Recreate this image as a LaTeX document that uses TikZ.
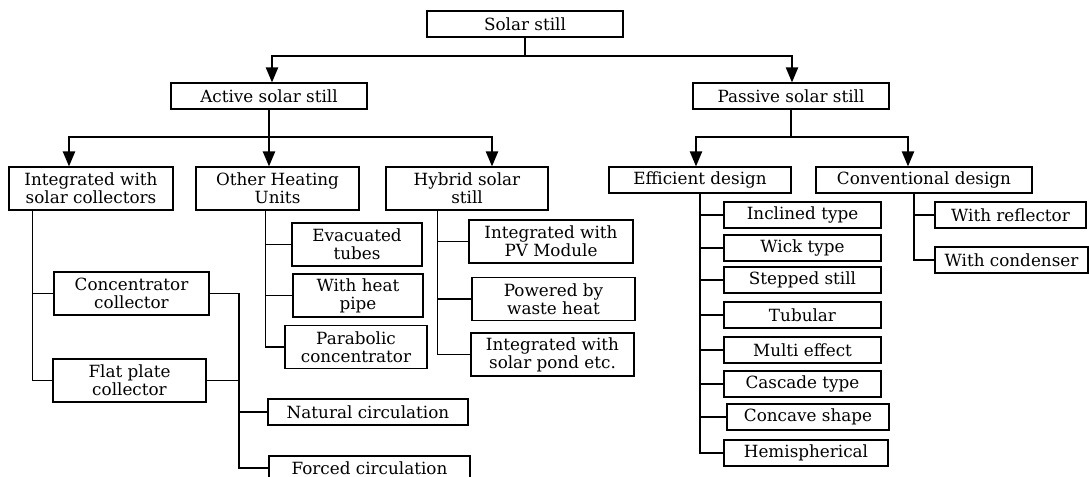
\documentclass[tikz,border=0pt]{standalone}
\usepackage{fontspec}
\setmainfont{DejaVu Serif}
\usetikzlibrary{arrows}
\tikzset{
  box/.style={draw, inner sep=0pt, minimum height=13pt, align=center, font=\fontsize{8.4}{9}\selectfont},
  tallbox/.style={box, minimum height=21.5pt}
}

\begin{document}
\begin{tikzpicture}[x=0.5pt,y=-0.5pt,line width=0.7pt,line join=miter,>=triangle 45]
        \useasboundingbox (0,0) rectangle (1089,477);
        \clip (0,0) rectangle (1089,477);
        \node[box, minimum width=98pt] (solar) at (525,24) {Solar still};
        \node[box, minimum width=98pt] (act) at (269,96) {Active solar still};
        \node[box, minimum width=98pt] (pas) at (791,96) {Passive solar still};
        \node[tallbox, minimum width=82pt] (integ) at (91,188.5) {Integrated with\\solar collectors};
        \node[tallbox, minimum width=81.5pt] (oth) at (277.5,188.5) {Other Heating\\Units};
        \node[tallbox, minimum width=81pt] (hyb) at (467,188.5) {Hybrid solar\\still};
        \node[box, minimum width=91pt] (eff) at (700,180) {Efficient design};
        \node[box, minimum width=108pt] (conv) at (924,180) {Conventional design};
        \node[tallbox, minimum width=77.5pt] (conc) at (131.5,293.5) {Concentrator\\collector};
        \node[tallbox, minimum width=76.5pt] (flat) at (129.5,380.5) {Flat plate\\collector};
        \node[box, minimum width=100pt] (nat) at (368,412) {Natural circulation};
        \node[box, minimum width=100.5pt, minimum height=12pt] (forc) at (369.5,468) {Forced circulation};
        \node[tallbox, minimum width=65pt] (evac) at (357,244.5) {Evacuated\\tubes};
        \node[tallbox, minimum width=65pt] (heat) at (358,295.5) {With heat\\pipe};
        \node[tallbox, minimum width=71pt] (para) at (356,347) {Parabolic\\concentrator};
        \node[tallbox, minimum width=82pt] (pv) at (551,241.5) {Integrated with\\PV Module};
        \node[tallbox, minimum width=81.5pt] (waste) at (553.5,299) {Powered by\\waste heat};
        \node[tallbox, minimum width=81.5pt] (pond) at (552.5,354.5) {Integrated with\\solar pond etc.};
        \node[box, minimum width=78.5pt] (incl) at (802.5,215) {Inclined type};
        \node[box, minimum width=78.5pt] (wick) at (802.5,248) {Wick type};
        \node[box, minimum width=78.5pt] (stepped) at (802.5,280) {Stepped still};
        \node[box, minimum width=78.5pt] (tubu) at (802.5,315) {Tubular};
        \node[box, minimum width=78.5pt] (multi) at (802.5,350) {Multi effect};
        \node[box, minimum width=78.5pt] (casc) at (802.5,384) {Cascade type};
        \node[box, minimum width=81pt] (conca) at (808,417) {Concave shape};
        \node[box, minimum width=82pt] (hemi) at (806,453) {Hemispherical};
        \node[box, minimum width=75.5pt] (refl) at (1010.5,215) {With reflector};
        \node[box, minimum width=76.5pt] (cond) at (1011.5,260) {With condenser};
        \coordinate (s0) at (525,56);
        \coordinate (a0) at (269,137);
        \coordinate (p0) at (791,137);
        \coordinate (c0) at (239,468);
        \draw (solar) -- (s0);
        \draw[->] (s0) -| ([xshift=1.5pt]act.north);
        \draw[->] (s0) -| ([xshift=0.5pt]pas.north);
        \draw (act) -- (a0);
        \draw[->] (a0) -| ([xshift=-11pt]integ.north);
        \draw[->] (a0) -| ([xshift=-4.25pt]oth.north);
        \draw[->] (a0) -| ([xshift=12.5pt]hyb.north);
        \draw (pas) -- (p0);
        \draw[->] (p0) -| ([xshift=-2pt]eff.north);
        \draw[->] (p0) -| ([xshift=-8pt]conv.north);
        \foreach \n in {conc,flat}
          \draw ([xshift=12pt]integ.south west) |- (\n.west);
        \draw (conc.east) -| (c0) -- (forc.west);
        \draw (flat.east) -- (flat.east -| c0);
        \draw (nat.west) -- (nat.west -| c0);
        \foreach \n in {evac,heat,para}
          \draw ([xshift=35pt]oth.south west) |- (\n.west);
        \foreach \n in {pv,waste,pond}
          \draw ([xshift=26pt]hyb.south west) |- (\n.west);
        \foreach \n in {incl,wick,stepped,tubu,multi,casc,conca,hemi}
          \draw (eff.south) |- (\n.west);
        \foreach \n in {refl,cond}
          \draw ([xshift=-5pt]conv.south) |- (\n.west);
      \end{tikzpicture}
\end{document}
